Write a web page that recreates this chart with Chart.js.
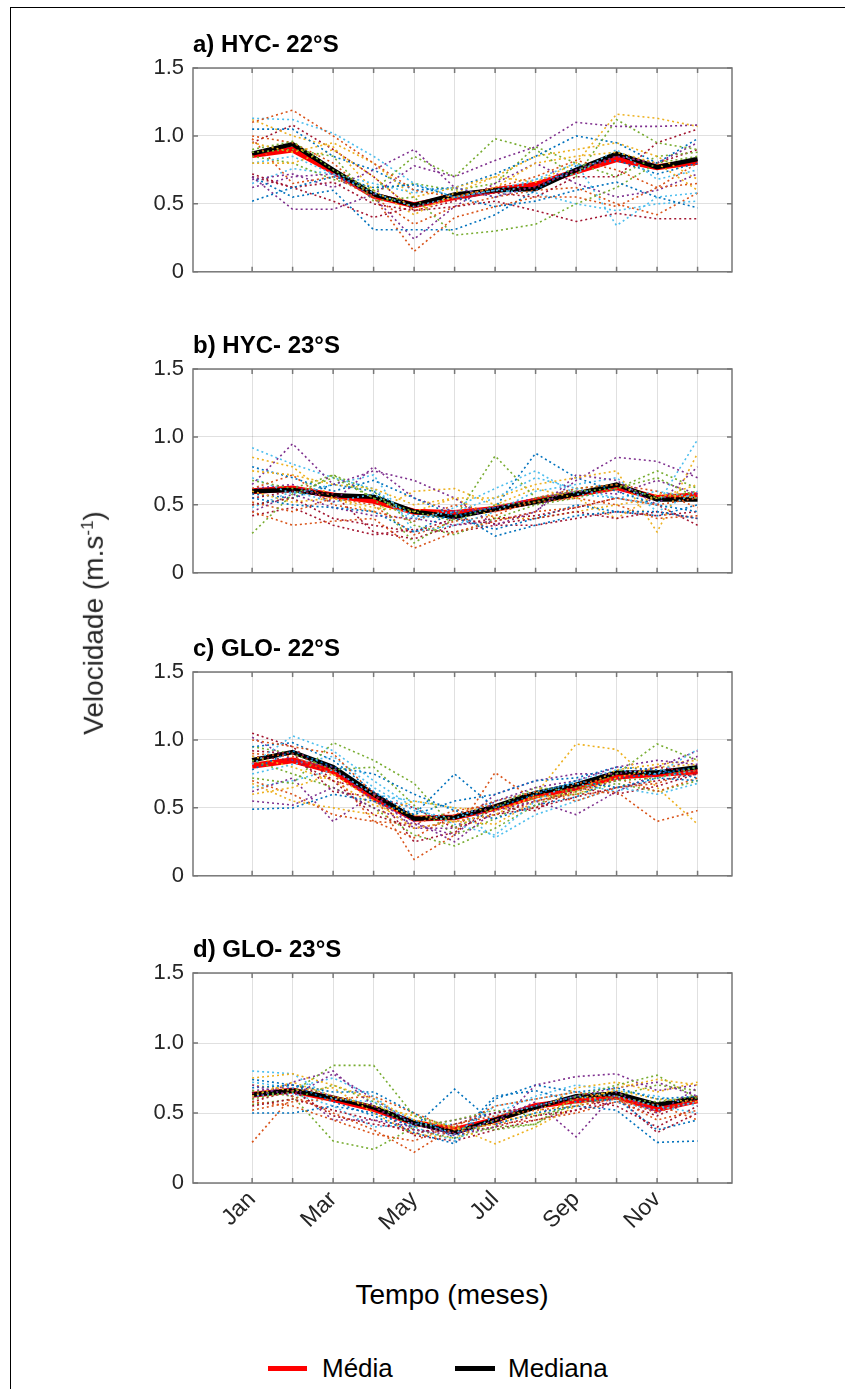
<!DOCTYPE html>
<html>
<head>
<meta charset="utf-8">
<script src="https://cdn.jsdelivr.net/npm/chart.js@4.4.0/dist/chart.umd.min.js"></script>
<style>
  body { margin: 0; background: #fff; width: 845px; height: 1389px; position: relative; overflow: hidden;
         font-family: "Liberation Sans", Arial, sans-serif; }
  canvas { position: absolute; left: 0; }
  .frame { position: absolute; left: 10px; top: 7px; right: -2px; bottom: -2px;
           border-top: 1px solid #000; border-left: 1px solid #000; }
  .ylabel { position: absolute; left: 94px; top: 623px; transform: translate(-50%, -50%) rotate(-90deg);
            font-size: 28px; color: #262626; white-space: nowrap; }
  .ylabel sup { font-size: 17px; }
  .xlabel { position: absolute; left: 452px; top: 1295px; transform: translate(-50%, -50%);
            font-size: 28px; color: #000; white-space: nowrap; }
  .leg-line { position: absolute; height: 5px; top: 1366px; }
  .leg-text { position: absolute; top: 1353px; font-size: 26px; color: #000; }
</style>
</head>
<body>
<div class="frame"></div>
<canvas id="pa" width="845" height="263" style="top:31px"></canvas>
<canvas id="pb" width="845" height="263" style="top:332px"></canvas>
<canvas id="pc" width="845" height="263" style="top:635px"></canvas>
<canvas id="pd" width="845" height="313" style="top:936px"></canvas>
<div class="ylabel">Velocidade (m.s<sup>-1</sup>)</div>
<div class="xlabel">Tempo (meses)</div>
<div class="leg-line" style="left:268px;width:39px;background:#ff0000"></div>
<div class="leg-text" style="left:322px">Média</div>
<div class="leg-line" style="left:455px;width:40px;background:#000"></div>
<div class="leg-text" style="left:508px">Mediana</div>

<script>
// months on the x axis, only odd ones get a label on the last panel
const months = ["Jan", "Feb", "Mar", "Apr", "May", "Jun", "Jul", "Aug", "Sep", "Oct", "Nov", "Dec"];
const shownMonths = ["Jan", "Mar", "May", "Jul", "Sep", "Nov"];
const yTickValues = [0, 0.5, 1, 1.5];
const yTickLabels = ["0", "0.5", "1.0", "1.5"];
const panelTitles = ["a) HYC- 22°S", "b) HYC- 23°S", "c) GLO- 22°S", "d) GLO- 23°S"];

// matlab default line colours for the individual years
const memberColors = ["#0072BD", "#D95319", "#EDB120", "#7E2F8E", "#77AC30", "#4DBEEE", "#A2142F"];

// a) HYC 22S
const mediaA = [0.86, 0.90, 0.74, 0.56, 0.49, 0.55, 0.60, 0.64, 0.74, 0.83, 0.77, 0.81];
const medianaA = [0.87, 0.94, 0.75, 0.57, 0.49, 0.57, 0.60, 0.61, 0.75, 0.87, 0.77, 0.83];
const membersA = [
  [0.52, 0.62, 0.70, 0.62, 0.64, 0.55, 0.48, 0.52, 0.60, 0.66, 0.55, 0.47],
  [1.10, 1.19, 1.00, 0.80, 0.60, 0.55, 0.62, 0.70, 0.82, 0.75, 0.62, 0.65],
  [0.95, 0.88, 0.95, 0.80, 0.55, 0.62, 0.70, 0.66, 0.80, 1.16, 1.13, 1.07],
  [0.70, 0.46, 0.46, 0.57, 0.78, 0.70, 0.82, 0.92, 1.10, 1.07, 1.07, 1.08],
  [0.90, 0.96, 0.75, 0.60, 0.85, 0.70, 0.98, 0.90, 0.70, 1.12, 0.95, 0.90],
  [1.13, 1.12, 1.02, 0.85, 0.65, 0.55, 0.60, 0.68, 0.80, 0.34, 0.55, 0.58],
  [0.72, 0.62, 0.66, 0.50, 0.45, 0.48, 0.52, 0.45, 0.37, 0.43, 0.39, 0.39],
  [1.05, 1.05, 0.85, 0.75, 0.60, 0.62, 0.72, 0.85, 1.00, 0.95, 0.80, 0.98],
  [0.98, 0.65, 0.70, 0.55, 0.15, 0.40, 0.48, 0.55, 0.55, 0.48, 0.62, 0.80],
  [0.80, 0.80, 0.90, 0.70, 0.45, 0.55, 0.62, 0.80, 0.85, 0.88, 0.80, 0.60],
  [0.68, 0.72, 0.62, 0.75, 0.90, 0.62, 0.55, 0.63, 0.75, 0.85, 0.80, 0.95],
  [0.88, 0.90, 0.85, 0.52, 0.55, 0.27, 0.30, 0.35, 0.50, 0.62, 0.80, 0.85],
  [0.80, 0.85, 0.72, 0.65, 0.58, 0.62, 0.55, 0.68, 0.72, 0.90, 0.68, 0.75],
  [0.70, 0.62, 0.52, 0.40, 0.48, 0.54, 0.58, 0.55, 0.70, 0.70, 0.95, 1.05],
  [0.70, 0.55, 0.60, 0.31, 0.31, 0.31, 0.42, 0.60, 0.78, 0.82, 0.72, 0.80],
  [1.00, 0.95, 0.80, 0.55, 0.35, 0.48, 0.55, 0.60, 0.62, 0.50, 0.42, 0.58],
  [1.12, 1.00, 0.92, 0.60, 0.42, 0.58, 0.70, 0.85, 0.90, 0.95, 0.85, 0.68],
  [0.62, 0.70, 0.72, 0.55, 0.24, 0.48, 0.65, 0.80, 0.65, 0.55, 0.60, 0.72],
  [0.85, 0.80, 0.68, 0.60, 0.65, 0.60, 0.65, 0.92, 0.80, 0.70, 0.85, 0.88],
  [0.65, 0.76, 0.72, 0.58, 0.48, 0.55, 0.60, 0.58, 0.50, 0.45, 0.50, 0.52],
  [0.95, 1.08, 0.90, 0.70, 0.45, 0.52, 0.60, 0.62, 0.75, 0.85, 0.80, 0.90]
];

// b) HYC 23S
const mediaB = [0.60, 0.62, 0.57, 0.53, 0.45, 0.44, 0.47, 0.53, 0.58, 0.63, 0.55, 0.57];
const medianaB = [0.60, 0.61, 0.57, 0.56, 0.45, 0.41, 0.47, 0.52, 0.58, 0.65, 0.54, 0.54];
const membersB = [
  [0.55, 0.50, 0.48, 0.45, 0.30, 0.45, 0.27, 0.35, 0.42, 0.45, 0.45, 0.40],
  [0.45, 0.35, 0.38, 0.40, 0.18, 0.30, 0.38, 0.45, 0.48, 0.55, 0.50, 0.55],
  [0.75, 0.72, 0.65, 0.62, 0.50, 0.55, 0.55, 0.65, 0.70, 0.75, 0.30, 0.88],
  [0.65, 0.95, 0.65, 0.75, 0.68, 0.55, 0.35, 0.45, 0.68, 0.85, 0.82, 0.70],
  [0.29, 0.58, 0.70, 0.55, 0.22, 0.40, 0.86, 0.55, 0.60, 0.62, 0.70, 0.55],
  [0.92, 0.80, 0.70, 0.62, 0.40, 0.45, 0.55, 0.70, 0.62, 0.55, 0.50, 0.98],
  [0.50, 0.55, 0.40, 0.35, 0.30, 0.40, 0.36, 0.40, 0.45, 0.40, 0.45, 0.40],
  [0.78, 0.70, 0.60, 0.68, 0.55, 0.42, 0.48, 0.88, 0.70, 0.60, 0.50, 0.45],
  [0.62, 0.72, 0.50, 0.45, 0.38, 0.50, 0.45, 0.52, 0.55, 0.50, 0.40, 0.42],
  [0.60, 0.52, 0.55, 0.45, 0.60, 0.62, 0.50, 0.62, 0.55, 0.40, 0.58, 0.55],
  [0.45, 0.58, 0.48, 0.42, 0.40, 0.35, 0.38, 0.45, 0.72, 0.68, 0.50, 0.78],
  [0.68, 0.62, 0.72, 0.60, 0.35, 0.28, 0.40, 0.50, 0.55, 0.62, 0.75, 0.62],
  [0.70, 0.58, 0.65, 0.72, 0.30, 0.35, 0.45, 0.60, 0.65, 0.70, 0.45, 0.60],
  [0.55, 0.60, 0.58, 0.30, 0.25, 0.35, 0.40, 0.42, 0.48, 0.55, 0.50, 0.35],
  [0.58, 0.55, 0.65, 0.60, 0.42, 0.40, 0.32, 0.40, 0.50, 0.45, 0.42, 0.50],
  [0.52, 0.45, 0.55, 0.50, 0.28, 0.38, 0.42, 0.55, 0.62, 0.65, 0.60, 0.48],
  [0.85, 0.78, 0.55, 0.48, 0.45, 0.55, 0.40, 0.40, 0.45, 0.50, 0.55, 0.65],
  [0.62, 0.65, 0.52, 0.78, 0.55, 0.45, 0.48, 0.55, 0.60, 0.58, 0.68, 0.58],
  [0.50, 0.55, 0.72, 0.55, 0.45, 0.38, 0.50, 0.52, 0.62, 0.65, 0.55, 0.60],
  [0.48, 0.60, 0.52, 0.58, 0.38, 0.48, 0.62, 0.75, 0.58, 0.55, 0.60, 0.55],
  [0.42, 0.48, 0.35, 0.28, 0.32, 0.30, 0.35, 0.35, 0.40, 0.45, 0.42, 0.45]
];

// c) GLO 22S
const mediaC = [0.81, 0.85, 0.77, 0.58, 0.42, 0.43, 0.50, 0.59, 0.65, 0.73, 0.75, 0.77];
const medianaC = [0.85, 0.91, 0.80, 0.60, 0.42, 0.43, 0.51, 0.61, 0.67, 0.76, 0.76, 0.80];
const membersC = [
  [0.49, 0.50, 0.60, 0.55, 0.45, 0.75, 0.50, 0.60, 0.70, 0.65, 0.72, 0.70],
  [1.00, 0.95, 0.90, 0.60, 0.12, 0.30, 0.76, 0.55, 0.60, 0.62, 0.40, 0.48],
  [0.60, 0.65, 0.75, 0.55, 0.35, 0.40, 0.45, 0.60, 0.97, 0.93, 0.65, 0.38],
  [0.55, 0.52, 0.65, 0.50, 0.38, 0.30, 0.55, 0.65, 0.70, 0.80, 0.85, 0.82],
  [0.72, 0.68, 0.98, 0.85, 0.68, 0.35, 0.50, 0.65, 0.62, 0.75, 0.97, 0.85],
  [0.82, 1.03, 0.92, 0.70, 0.50, 0.38, 0.30, 0.55, 0.70, 0.78, 0.75, 0.93],
  [1.05, 0.95, 0.70, 0.45, 0.35, 0.40, 0.45, 0.50, 0.58, 0.65, 0.70, 0.75],
  [0.95, 0.98, 0.85, 0.62, 0.45, 0.55, 0.60, 0.70, 0.72, 0.80, 0.78, 0.72],
  [0.90, 0.88, 0.75, 0.40, 0.28, 0.45, 0.55, 0.62, 0.55, 0.65, 0.68, 0.78],
  [0.68, 0.55, 0.50, 0.45, 0.55, 0.50, 0.48, 0.58, 0.60, 0.72, 0.80, 0.82],
  [1.02, 0.85, 0.80, 0.55, 0.40, 0.25, 0.48, 0.55, 0.45, 0.62, 0.75, 0.88],
  [0.85, 0.75, 0.65, 0.50, 0.30, 0.22, 0.35, 0.52, 0.65, 0.70, 0.72, 0.80],
  [0.75, 0.82, 0.88, 0.65, 0.48, 0.42, 0.55, 0.62, 0.68, 0.62, 0.72, 0.78],
  [0.92, 0.90, 0.62, 0.58, 0.50, 0.35, 0.45, 0.55, 0.62, 0.70, 0.80, 0.76],
  [0.78, 0.92, 0.80, 0.75, 0.60, 0.48, 0.42, 0.52, 0.58, 0.72, 0.75, 0.80],
  [0.70, 0.60, 0.45, 0.40, 0.38, 0.48, 0.52, 0.50, 0.68, 0.72, 0.62, 0.72],
  [0.88, 0.80, 0.70, 0.52, 0.45, 0.40, 0.38, 0.55, 0.62, 0.78, 0.82, 0.85],
  [0.62, 0.72, 0.40, 0.60, 0.35, 0.35, 0.60, 0.70, 0.75, 0.75, 0.80, 0.92],
  [0.95, 0.90, 0.78, 0.80, 0.52, 0.30, 0.42, 0.58, 0.60, 0.68, 0.62, 0.70],
  [0.65, 0.70, 0.78, 0.60, 0.55, 0.50, 0.28, 0.45, 0.55, 0.65, 0.60, 0.68],
  [0.88, 0.85, 0.70, 0.62, 0.25, 0.32, 0.50, 0.48, 0.65, 0.60, 0.66, 0.75]
];

// d) GLO 23S
const mediaD = [0.63, 0.66, 0.60, 0.53, 0.43, 0.38, 0.45, 0.55, 0.59, 0.62, 0.53, 0.59];
const medianaD = [0.63, 0.66, 0.61, 0.54, 0.43, 0.36, 0.45, 0.54, 0.62, 0.64, 0.56, 0.61];
const membersD = [
  [0.50, 0.50, 0.55, 0.50, 0.40, 0.67, 0.42, 0.50, 0.55, 0.52, 0.29, 0.30],
  [0.29, 0.62, 0.50, 0.38, 0.22, 0.40, 0.55, 0.60, 0.65, 0.60, 0.45, 0.52],
  [0.75, 0.78, 0.70, 0.60, 0.45, 0.40, 0.28, 0.40, 0.55, 0.68, 0.74, 0.70],
  [0.70, 0.62, 0.78, 0.60, 0.42, 0.35, 0.45, 0.58, 0.33, 0.65, 0.50, 0.68],
  [0.60, 0.65, 0.84, 0.84, 0.48, 0.40, 0.38, 0.42, 0.62, 0.70, 0.77, 0.60],
  [0.80, 0.78, 0.60, 0.58, 0.45, 0.35, 0.55, 0.60, 0.65, 0.62, 0.55, 0.50],
  [0.55, 0.60, 0.52, 0.45, 0.35, 0.42, 0.50, 0.55, 0.60, 0.55, 0.40, 0.55],
  [0.68, 0.70, 0.65, 0.65, 0.50, 0.32, 0.62, 0.66, 0.58, 0.60, 0.38, 0.45],
  [0.58, 0.55, 0.45, 0.35, 0.30, 0.42, 0.48, 0.52, 0.55, 0.60, 0.50, 0.62],
  [0.62, 0.72, 0.62, 0.55, 0.48, 0.38, 0.42, 0.50, 0.68, 0.72, 0.65, 0.72],
  [0.60, 0.72, 0.80, 0.55, 0.38, 0.34, 0.40, 0.70, 0.76, 0.78, 0.66, 0.70],
  [0.66, 0.62, 0.30, 0.24, 0.40, 0.45, 0.52, 0.48, 0.55, 0.62, 0.70, 0.66],
  [0.72, 0.68, 0.75, 0.62, 0.40, 0.30, 0.48, 0.55, 0.62, 0.58, 0.52, 0.58],
  [0.58, 0.66, 0.48, 0.42, 0.38, 0.36, 0.40, 0.48, 0.52, 0.62, 0.36, 0.50],
  [0.74, 0.70, 0.58, 0.48, 0.36, 0.28, 0.60, 0.70, 0.65, 0.68, 0.60, 0.62],
  [0.52, 0.58, 0.60, 0.62, 0.50, 0.38, 0.42, 0.45, 0.50, 0.58, 0.56, 0.45],
  [0.70, 0.66, 0.68, 0.50, 0.35, 0.32, 0.45, 0.48, 0.60, 0.66, 0.60, 0.58],
  [0.66, 0.68, 0.45, 0.45, 0.40, 0.45, 0.50, 0.55, 0.62, 0.68, 0.72, 0.62],
  [0.56, 0.60, 0.70, 0.58, 0.38, 0.32, 0.40, 0.42, 0.58, 0.60, 0.58, 0.62],
  [0.62, 0.64, 0.55, 0.40, 0.42, 0.42, 0.50, 0.62, 0.70, 0.66, 0.62, 0.55],
  [0.64, 0.70, 0.62, 0.55, 0.34, 0.30, 0.38, 0.45, 0.52, 0.58, 0.48, 0.60]
];

const tickColor = "#262626";
const gridColor = "rgba(0, 0, 0, 0.12)";

// box around the axes with matlab style inward ticks
const boxPlugin = {
  id: "box",
  afterDraw(chart) {
    const { ctx, chartArea: a, scales } = chart;
    ctx.save();
    ctx.strokeStyle = "#777777";
    ctx.lineWidth = 1.5;
    ctx.strokeRect(a.left, a.top, a.right - a.left, a.bottom - a.top);
    ctx.beginPath();
    scales.x.ticks.forEach(function (t) {
      let px = scales.x.getPixelForValue(t.value);
      ctx.moveTo(px, a.bottom);
      ctx.lineTo(px, a.bottom - 5);
      ctx.moveTo(px, a.top);
      ctx.lineTo(px, a.top + 5);
    });
    scales.y.ticks.forEach(function (t) {
      let py = scales.y.getPixelForValue(t.value);
      ctx.moveTo(a.left, py);
      ctx.lineTo(a.left + 5, py);
      ctx.moveTo(a.right, py);
      ctx.lineTo(a.right - 5, py);
    });
    ctx.stroke();
    ctx.restore();
  },
};

function toPoints(values) {
  return values.map(function (v, i) {
    return { x: i, y: v };
  });
}

function makePanel(canvasId, title, members, media, mediana, isLast) {
  // members first so they are drawn on top, media last so it sits at the bottom
  let datasets = members.map(function (vals, i) {
    return {
      label: "ano " + (i + 1),
      data: toPoints(vals),
      borderColor: memberColors[i % memberColors.length],
      borderWidth: 1.6,
      borderDash: [2, 3],
      pointRadius: 0,
      tension: 0,
    };
  });
  datasets.push({
    label: "Mediana",
    data: toPoints(mediana),
    borderColor: "#000000",
    borderWidth: 4.5,
    pointRadius: 0,
    tension: 0,
  });
  datasets.push({
    label: "Média",
    data: toPoints(media),
    borderColor: "#ff0000",
    borderWidth: 6,
    pointRadius: 0,
    tension: 0,
  });

  let ctx = document.getElementById(canvasId).getContext("2d");

  return new Chart(ctx, {
    type: "line",
    data: { datasets: datasets },
    options: {
      responsive: false,
      animation: false,
      layout: { padding: { left: 0, right: 113, top: 0, bottom: isLast ? 6 : 16 } },
      plugins: {
        legend: { display: false },
        tooltip: { enabled: false },
        title: {
          display: true,
          text: title,
          align: "start",
          fullSize: false,
          color: "#000",
          font: { family: "Liberation Sans", size: 24, weight: "bold", lineHeight: 1.2 },
          padding: { top: 0, bottom: 8.2 },
        },
      },
      scales: {
        x: {
          type: "linear",
          min: -1.46,
          max: 11.85,
          afterBuildTicks: function (scale) {
            scale.ticks = months.map(function (m, i) {
              return { value: i };
            });
          },
          afterFit: function (scale) {
            scale.height = isLast ? 60 : 0;
          },
          grid: { color: gridColor, lineWidth: 1, drawTicks: false },
          border: { display: false },
          ticks: {
            display: isLast,
            autoSkip: false,
            maxRotation: 45,
            minRotation: 45,
            padding: 3,
            color: tickColor,
            font: { family: "Liberation Sans", size: 23 },
            callback: function (value) {
              let name = months[value];
              return shownMonths.includes(name) ? name : "";
            },
          },
        },
        y: {
          min: 0,
          max: 1.5,
          afterBuildTicks: function (scale) {
            scale.ticks = yTickValues.map(function (v) {
              return { value: v };
            });
          },
          afterFit: function (scale) {
            scale.width = 193;
          },
          grid: { color: gridColor, lineWidth: 1, drawTicks: false },
          border: { display: false },
          ticks: {
            padding: 9,
            color: tickColor,
            font: { family: "Liberation Sans", size: 22 },
            callback: function (value, index) {
              return yTickLabels[index];
            },
          },
        },
      },
    },
    plugins: [boxPlugin],
  });
}

try {
  makePanel("pa", panelTitles[0], membersA, mediaA, medianaA, false);
  makePanel("pb", panelTitles[1], membersB, mediaB, medianaB, false);
  makePanel("pc", panelTitles[2], membersC, mediaC, medianaC, false);
  makePanel("pd", panelTitles[3], membersD, mediaD, medianaD, true);
} catch (error) {
  console.log("while creating the charts:", error);
}
</script>
</body>
</html>
